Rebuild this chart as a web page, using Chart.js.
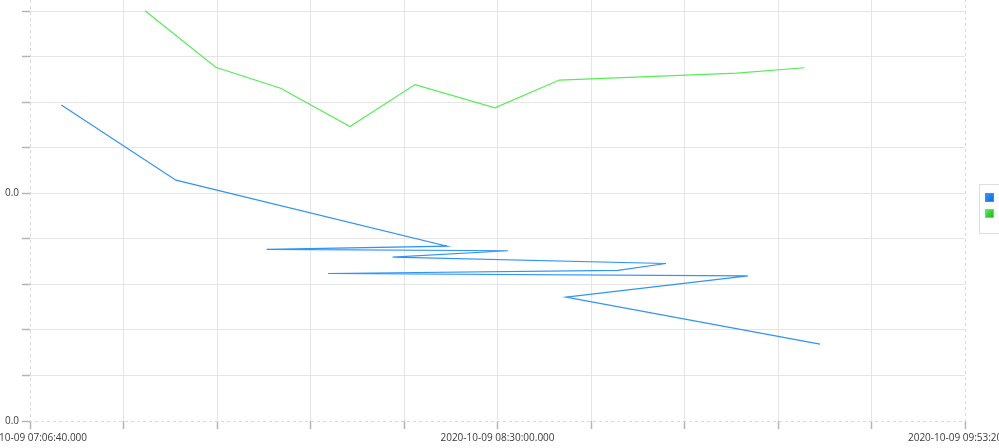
<!DOCTYPE html>
<html lang="en">
<head>
    <meta charset="UTF-8">
    <title>Time series</title>
    <script src="https://cdn.jsdelivr.net/npm/chart.js"></script>
    <style>
        html, body {
            margin: 0;
            padding: 0;
            background: #fff;
            overflow: hidden;
            width: 999px;
            height: 448px;
        }
        /* canvas is wider than the window so the end labels get cut off like the original */
        .chart-container {
            position: absolute;
            left: -60px;
            top: 0;
            width: 1119px;
            height: 448px;
        }
        #legend {
            position: absolute;
            left: 979px;
            top: 184px;
            width: 30px;
            height: 48px;
            border: 1px solid #dedede;
            background: #fff;
        }
        #legend span {
            position: absolute;
            left: 5px;
            width: 7px;
            height: 7px;
            border: 1px solid;
        }
    </style>
</head>
<body>
    <div class="chart-container">
        <canvas id="lineChart"></canvas>
    </div>
    <div id="legend"></div>

<script>
    // start of the x axis: 2020-10-09 07:06:40
    const startTime = "07:06:40";

    const blueTimes  = ["07:12:15", "07:32:41", "08:21:00", "07:48:51", "08:31:51", "08:11:18",
                        "09:00:02", "08:51:27", "07:59:47", "09:14:37", "08:42:13", "09:27:29"];
    const blueValues = [6.94, 5.29, 3.84, 3.77, 3.74, 3.60, 3.46, 3.31, 3.24, 3.19, 2.72, 1.69];

    const greenTimes  = ["07:27:10", "07:39:46", "07:51:21", "08:03:42", "08:15:18", "08:29:33",
                         "08:41:01", "09:12:38", "09:24:41"];
    const greenValues = [9.01, 7.77, 7.31, 6.47, 7.39, 6.88, 7.49, 7.64, 7.76];

    const xTickLabels = ["2020-10-09 07:06:40.000", "", "", "", "", "2020-10-09 08:30:00.000",
                         "", "", "", "", "2020-10-09 09:53:20.000"];
    const yTickLabels = ["0.0", "", "", "", "", "0.0", "", "", "", ""];

    function secs(t) {
        const p = t.split(":").map(Number);
        return p[0] * 3600 + p[1] * 60 + p[2];
    }
    const t0 = secs(startTime);
    const toPoints = (times, vals) => times.map((t, i) => ({ x: secs(t) - t0, y: vals[i] }));

    const gridColor = "#e5e5e5";
    const edgeColor = "#d9d9d9";
    const tickColor = "#b5b5b5";

    // dashed frame on left, bottom and right of the plot (grid lines stay solid)
    const dashedFrame = {
        id: "dashedFrame",
        beforeDatasetsDraw(chart) {
            const a = chart.chartArea;
            const ctx = chart.ctx;
            const l = Math.round(a.left) + 0.5;
            const r = Math.round(a.right) + 0.5;
            const b = Math.round(a.bottom) + 0.5;
            ctx.save();
            ctx.strokeStyle = edgeColor;
            ctx.lineWidth = 1;
            ctx.setLineDash([3, 3]);
            ctx.beginPath();
            ctx.moveTo(l, a.top);
            ctx.lineTo(l, b);
            ctx.lineTo(r, b);
            ctx.lineTo(r, a.top);
            ctx.stroke();
            ctx.restore();
        }
    };

    Chart.defaults.font.family = "'Open Sans', sans-serif";
    Chart.defaults.font.size = 10;
    Chart.defaults.color = "#3a3a3a";

    const chart = new Chart(document.getElementById("lineChart"), {
        type: "line",
        data: {
            datasets: [{
                label: "",
                data: toPoints(blueTimes, blueValues),
                borderColor: "#2f93f7",
                backgroundColor: "#1170e0",
                borderWidth: 1.2,
                pointRadius: 0,
                tension: 0,
                fill: false
            }, {
                label: "",
                data: toPoints(greenTimes, greenValues),
                borderColor: "#55ee55",
                backgroundColor: "#1cb81c",
                borderWidth: 1.2,
                pointRadius: 0,
                tension: 0,
                fill: false
            }]
        },
        options: {
            responsive: true,
            maintainAspectRatio: false,
            animation: false,
            layout: { padding: { left: 60, right: 94, top: 0, bottom: 0 } },
            plugins: {
                legend: { display: false },
                tooltip: { enabled: false }
            },
            scales: {
                x: {
                    type: "linear",
                    min: 0,
                    max: 10000,
                    afterFit: s => { s.height = 27; },
                    ticks: {
                        stepSize: 1000,
                        autoSkip: false,
                        maxRotation: 0,
                        padding: 3,
                        callback: (v, i) => xTickLabels[i]
                    },
                    grid: {
                        color: c => (c.index === 0 || c.index === 10) ? "rgba(0,0,0,0)" : gridColor,
                        tickColor: tickColor,
                        tickLength: 8,
                        tickWidth: 1.5
                    },
                    border: { display: false }
                },
                y: {
                    min: 0,
                    max: 9.248,
                    afterFit: s => {
                        s.width = 30;
                        s.paddingTop = 0;
                        s.paddingBottom = 0;
                    },
                    ticks: {
                        stepSize: 1,
                        includeBounds: false,
                        padding: 3,
                        callback: (v, i) => yTickLabels[i]
                    },
                    grid: {
                        color: c => c.index === 0 ? "rgba(0,0,0,0)" : gridColor,
                        tickColor: tickColor,
                        tickLength: 8,
                        tickWidth: 1.5
                    },
                    border: { display: false }
                }
            }
        },
        plugins: [dashedFrame]
    });

    // small legend box on the right, no text, only colour squares
    const legend = document.getElementById("legend");
    chart.data.datasets.forEach((ds, i) => {
        const sw = document.createElement("span");
        sw.style.top = (8 + i * 16) + "px";
        sw.style.background = "linear-gradient(135deg, " + ds.borderColor + ", " + ds.backgroundColor + ")";
        sw.style.borderColor = ds.borderColor;
        legend.appendChild(sw);
    });
</script>
</body>
</html>
